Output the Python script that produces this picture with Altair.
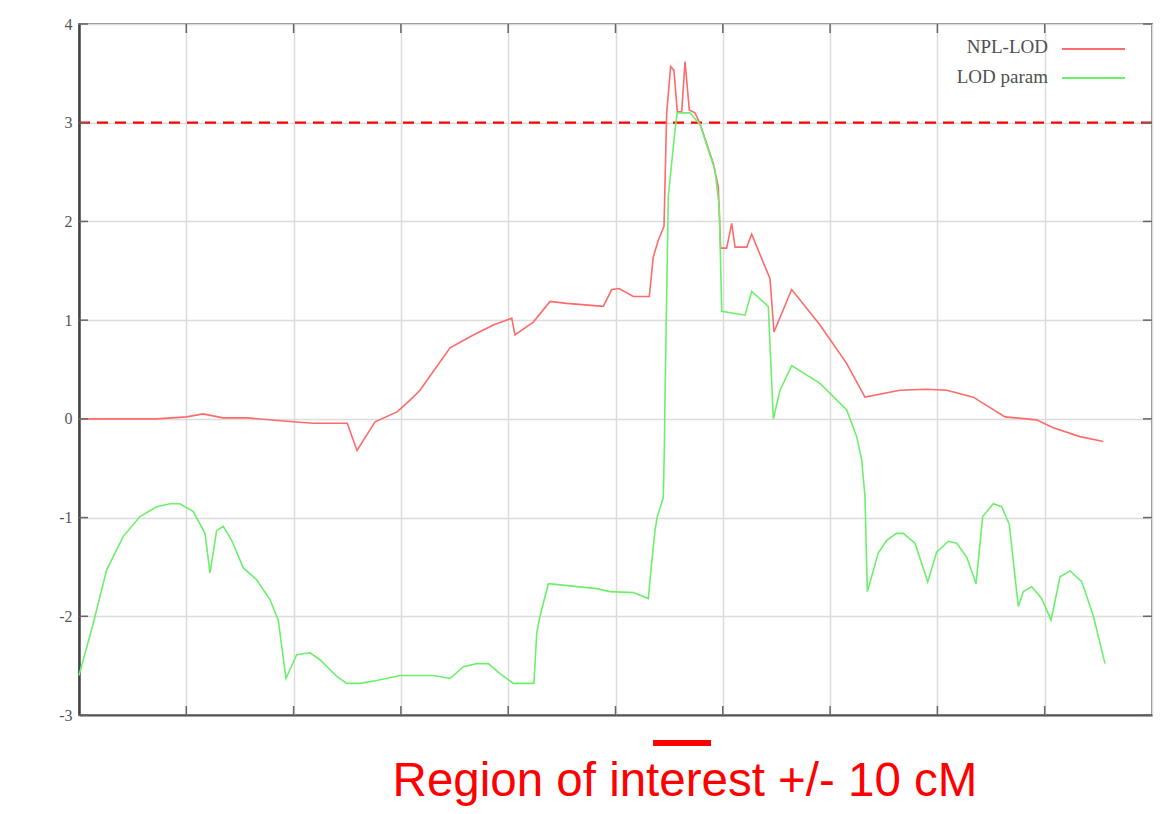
import altair as alt
import pandas as pd

# NPL-LOD (red) curve
npl_x = [0, 7.24, 10.04, 11.56, 13.42, 15.66, 19.94, 21.81, 25.0, 25.91, 27.59, 29.64, 30.85,
         31.78, 34.58, 36.75, 38.61, 40.33, 40.63, 42.34, 43.90, 45.45, 48.86, 49.65, 50.33,
         51.66, 53.15, 53.52, 53.99, 54.52, 54.77, 55.14, 55.45, 55.76, 56.17, 56.48, 56.88,
         57.41, 57.88, 59.11, 59.58, 59.80, 60.36, 60.83, 61.14, 62.23, 62.69, 64.40, 64.77,
         66.42, 69.06, 71.55, 73.25, 76.51, 79.0, 80.87, 83.35, 86.3, 89.25, 90.80, 93.29, 95.46]
npl_y = [0.0, 0.0, 0.02, 0.05, 0.01, 0.01, -0.03, -0.045, -0.045, -0.32, -0.03, 0.07, 0.19,
         0.29, 0.72, 0.85, 0.95, 1.02, 0.85, 0.98, 1.19, 1.17, 1.14, 1.31, 1.32,
         1.24, 1.24, 1.64, 1.81, 1.95, 3.10, 3.57, 3.53, 3.11, 3.11, 3.62, 3.13,
         3.10, 2.99, 2.59, 2.35, 1.73, 1.73, 1.98, 1.74, 1.74, 1.87, 1.42, 0.88,
         1.31, 0.95, 0.56, 0.22, 0.29, 0.30, 0.29, 0.22, 0.02, -0.01, -0.09, -0.18, -0.23]

# LOD param (green) curve
par_x = [0, 1.33, 2.58, 4.13, 5.68, 7.24, 8.48, 9.41, 10.65, 11.74, 12.21, 12.83, 13.45, 14.23,
         15.31, 16.56, 17.80, 18.57, 19.29, 20.29, 21.53, 22.46, 24.02, 24.95, 26.19, 27.74,
         29.92, 33.02, 34.58, 35.82, 37.06, 38.15, 39.24, 40.48, 42.40, 42.66, 42.96, 43.74,
         48.25, 49.49, 51.66, 53.06, 53.37, 53.68, 53.90, 54.45, 54.55, 54.61, 54.92, 55.55,
         55.76, 56.94, 57.88, 59.27, 59.67, 59.90, 62.07, 62.69, 64.24, 64.71, 65.33, 66.42,
         69.06, 71.55, 72.48, 72.95, 73.25, 73.47, 74.49, 75.27, 76.20, 76.82, 77.91, 79.10,
         79.93, 81.02, 81.80, 82.73, 83.60, 84.22, 85.21, 85.99, 86.70, 87.54, 88.01, 88.79,
         89.72, 90.59, 91.43, 92.36, 93.45, 94.54, 95.62]
par_y = [-2.6, -2.07, -1.53, -1.19, -0.99, -0.89, -0.86, -0.86, -0.94, -1.16, -1.56, -1.13, -1.09, -1.23,
         -1.51, -1.63, -1.83, -2.04, -2.63, -2.39, -2.37, -2.44, -2.61, -2.68, -2.68, -2.65,
         -2.60, -2.60, -2.63, -2.51, -2.48, -2.48, -2.58, -2.68, -2.68, -2.17, -2.0, -1.67,
         -1.72, -1.75, -1.76, -1.82, -1.46, -1.13, -0.99, -0.80, -0.32, 0.19, 2.25, 2.93,
         3.10, 3.10, 2.98, 2.52, 2.15, 1.09, 1.05, 1.29, 1.14, 0.0, 0.29, 0.54,
         0.36, 0.09, -0.18, -0.42, -0.79, -1.75, -1.36, -1.23, -1.16, -1.16, -1.26, -1.65,
         -1.35, -1.24, -1.26, -1.40, -1.67, -0.99, -0.86, -0.89, -1.07, -1.90, -1.75, -1.70,
         -1.82, -2.04, -1.60, -1.54, -1.65, -2.0, -2.48]

series_names = ["NPL-LOD", "LOD param"]
series_colors = ["#ff6a6a", "#6cf06c"]
threshold = [3]
y_ticks = [-3, -2, -1, 0, 1, 2, 3, 4]
x_grid = [0, 10, 20, 30, 40, 50, 60, 70, 80, 90, 100]
roi_start, roi_end = 53.5, 58.9
annotation = "Region of interest +/- 10 cM"

W, H = 1073, 691

rows = []
for i, (x, y) in enumerate(zip(npl_x, npl_y)):
    rows.append({"x": x, "y": y, "series": series_names[0], "i": i})
for i, (x, y) in enumerate(zip(par_x, par_y)):
    rows.append({"x": x, "y": y, "series": series_names[1], "i": i})
df = pd.DataFrame(rows)

xscale = alt.Scale(domain=[0, 100], nice=False, zero=False)
yscale = alt.Scale(domain=[-3, 4], nice=False, zero=False)

xaxis = alt.Axis(values=x_grid, labels=False, ticks=False, title=None, grid=True,
                 gridColor="#dcdcdc", gridWidth=1.5, domainColor="#555", domainWidth=2)
yaxis = alt.Axis(values=y_ticks, ticks=False, title=None, grid=True, gridColor="#dcdcdc",
                 gridWidth=1.5, domainColor="#444", domainWidth=2.5, labelFont="Liberation Serif",
                 labelFontSize=16, labelColor="#555", labelPadding=7,
                 labelExpr="toString(datum.value)")

lines = alt.Chart(df).mark_line(strokeWidth=1.6).encode(
    x=alt.X("x:Q", scale=xscale, axis=xaxis),
    y=alt.Y("y:Q", scale=yscale, axis=yaxis),
    color=alt.Color("series:N", scale=alt.Scale(domain=series_names, range=series_colors), legend=None),
    order="i:Q",
)

thr = alt.Chart(pd.DataFrame({"y": threshold})).mark_rule(
    color="#ff0000", strokeWidth=2.2, strokeDash=[11, 7]
).encode(y=alt.Y("y:Q", scale=yscale))

ydf = pd.DataFrame({"y": y_ticks})
xdf = pd.DataFrame({"x": x_grid[1:-1]})
tick_style = dict(color="#666", strokeWidth=1.5)
ticks = [
    alt.Chart(ydf).mark_rule(**tick_style).encode(y=alt.Y("y:Q", scale=yscale), x=alt.value(0), x2=alt.value(9)),
    alt.Chart(ydf).mark_rule(**tick_style).encode(y=alt.Y("y:Q", scale=yscale), x=alt.value(W - 9), x2=alt.value(W)),
    alt.Chart(xdf).mark_rule(**tick_style).encode(x=alt.X("x:Q", scale=xscale), y=alt.value(0), y2=alt.value(9)),
    alt.Chart(xdf).mark_rule(**tick_style).encode(x=alt.X("x:Q", scale=xscale), y=alt.value(H - 9), y2=alt.value(H)),
]

legend_layers = []
for k, (name, col) in enumerate(zip(series_names, series_colors)):
    ld = pd.DataFrame({"series": [name]})
    legend_layers.append(
        alt.Chart(ld).mark_text(align="right", baseline="middle", font="Liberation Serif",
                                fontSize=19, color="#505050").encode(
            text="series:N", x=alt.value(969), y=alt.value(23 + 30 * k))
    )
    legend_layers.append(
        alt.Chart(ld).mark_rule(color=col, strokeWidth=1.8).encode(
            x=alt.value(983), x2=alt.value(1046), y=alt.value(25 + 29 * k))
    )

roi = alt.Chart(pd.DataFrame({"a": [roi_start], "b": [roi_end]})).mark_rule(
    color="#ff0000", strokeWidth=6, clip=False
).encode(x=alt.X("a:Q", scale=xscale), x2="b:Q", y=alt.value(H + 28))

ann = alt.Chart(pd.DataFrame({"t": [annotation]})).mark_text(
    align="center", baseline="alphabetic", font="Liberation Sans", fontSize=47.5, color="#ff0000"
).encode(text="t:N", x=alt.value(606), y=alt.value(H + 81))

chart = alt.layer(thr, lines, *ticks, *legend_layers, roi, ann).properties(
    width=W, height=H,
    autosize=alt.AutoSizeParams(type="none"),
    padding={"left": 71, "top": 16, "right": 10, "bottom": 91},
    background="white",
).configure_view(stroke="#888", strokeWidth=2)

chart.save("out.html", embed_options={"renderer": "svg", "actions": False})
